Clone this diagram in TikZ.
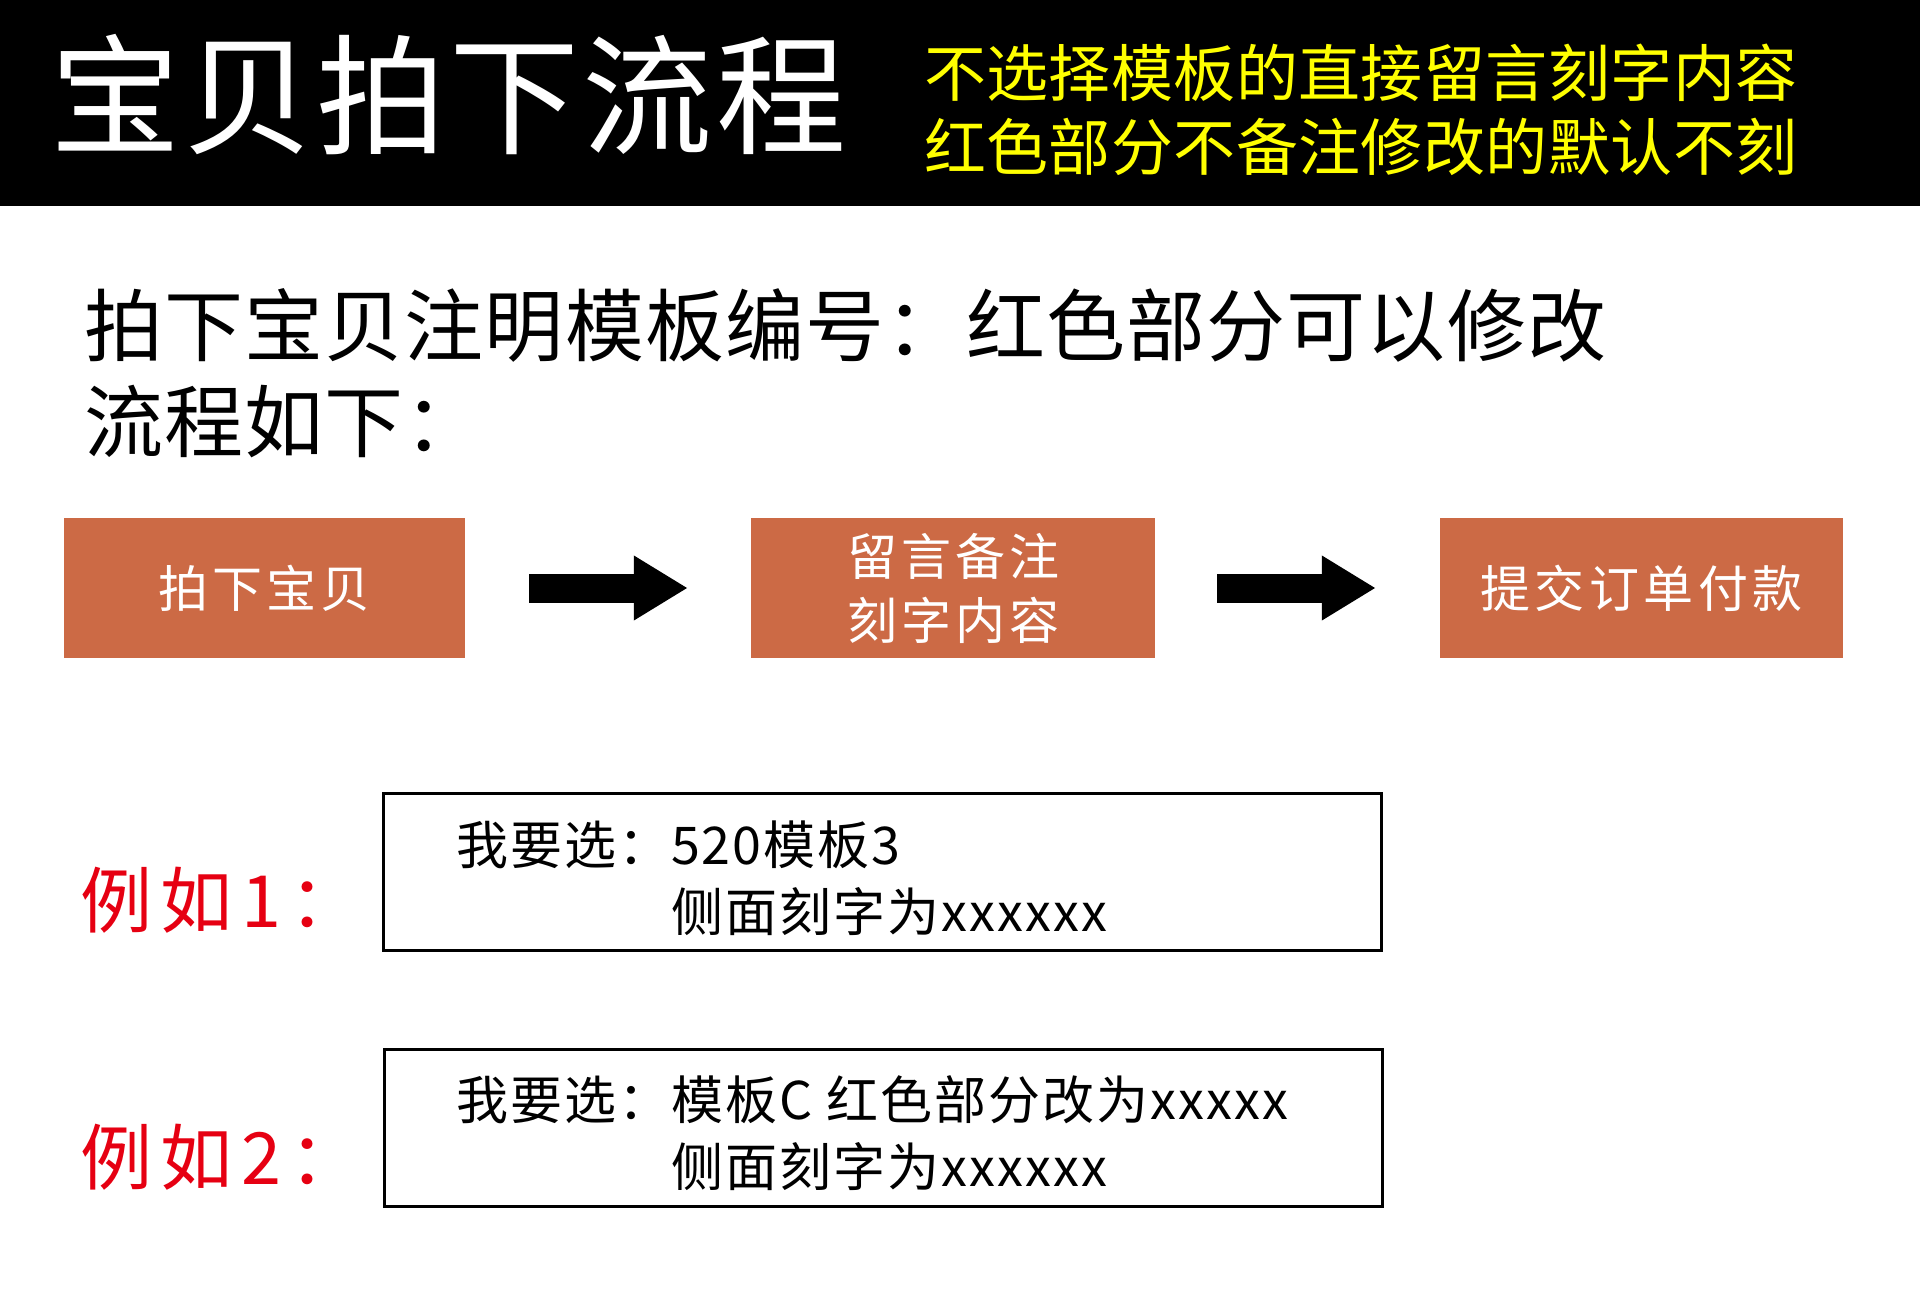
\documentclass[tikz,border=0pt]{standalone}
\usepackage{fontspec}
\newfontfamily\cjk{Noto Sans CJK SC}
\usetikzlibrary{arrows.meta}
\definecolor{boxorange}{RGB}{204,106,69}
\definecolor{hdryellow}{RGB}{255,255,0}
\definecolor{exred}{RGB}{230,0,18}
\newcommand\fsz[2]{\cjk\fontsize{#1}{#1}\selectfont\addfontfeature{LetterSpace=#2}}
\newcommand\fszb[3]{\cjk\fontsize{#1}{#2}\selectfont\addfontfeature{LetterSpace=#3}}
\tikzset{
  txt/.style={anchor=west, inner sep=0pt, outer sep=0pt},
  stepbox/.style={fill=boxorange, text=white, inner sep=0pt, minimum height=140pt, font=\fsz{50}{8}, align=center},
  exbox/.style={draw=black, line width=3pt, fill=white, inner sep=0pt, minimum width=998pt, minimum height=157pt},
  bigarrow/.style={line width=29pt, -{Triangle[length=54pt,width=61pt]}},
  extxt/.style={txt, anchor=base west, font=\fsz{52}{4}},
}
\begin{document}
\begin{tikzpicture}[x=1pt,y=-1pt]
\path[use as bounding box, fill=white] (0,0) rectangle (1920,1297);
\fill[black] (0,0) rectangle (1920,206);
% header
\node[txt, text=white, font=\fsz{130}{2.5}] (title) at (50,95) {宝贝拍下流程};
\node[txt, text=hdryellow, font=\fsz{62}{0.7}] (y1) at (924,73) {不选择模板的直接留言刻字内容};
\node[txt, text=hdryellow, font=\fsz{62}{0.7}] (y2) at (924,147) {红色部分不备注修改的默认不刻};
% main text
\node[txt, text=black, font=\fsz{79}{1.5}] (m1) at (84,325) {拍下宝贝注明模板编号：红色部分可以修改};
\node[txt, text=black, font=\fsz{79}{1.5}] (m2) at (84,422) {流程如下：};
% flow boxes
\node[stepbox, minimum width=401pt] (b1) at (264.5,588) {拍下宝贝};
\node[stepbox, minimum width=404pt, font=\fszb{50}{64}{8}] (b2) at (953,588) {留言备注\\刻字内容};
\node[stepbox, minimum width=403pt, font=\fsz{50}{9}] (b3) at (1641.5,588) {\raisebox{-5pt}{提交订单付款}};
\draw[bigarrow, shorten <=64pt, shorten >=63pt] (b1.east) -- (b2.west);
\draw[bigarrow, shorten <=62pt, shorten >=64pt] (b2.east) -- (b3.west);
% examples
\node[txt, text=exred, font=\fsz{72}{12}] (e1) at (80,900) {例如1：};
\node[txt, text=exred, font=\fsz{72}{12}] (e2) at (80,1157) {例如2：};
\node[exbox] (ba) at (882,871.5) {};
\node[exbox] (bb) at (883,1127.5) {};
\node[extxt] (a1) at (671,864) {520模板3};
\node[extxt, anchor=base east] (ap) at (a1.base west) {我要选：};
\node[extxt] (a2) at (671,931) {侧面刻字为xxxxxx};
\node[extxt] (c1) at (671,1119) {模板C 红色部分改为xxxxx};
\node[extxt, anchor=base east] (cp) at (c1.base west) {我要选：};
\node[extxt] (c2) at (671,1186) {侧面刻字为xxxxxx};
\end{tikzpicture}
\end{document}
